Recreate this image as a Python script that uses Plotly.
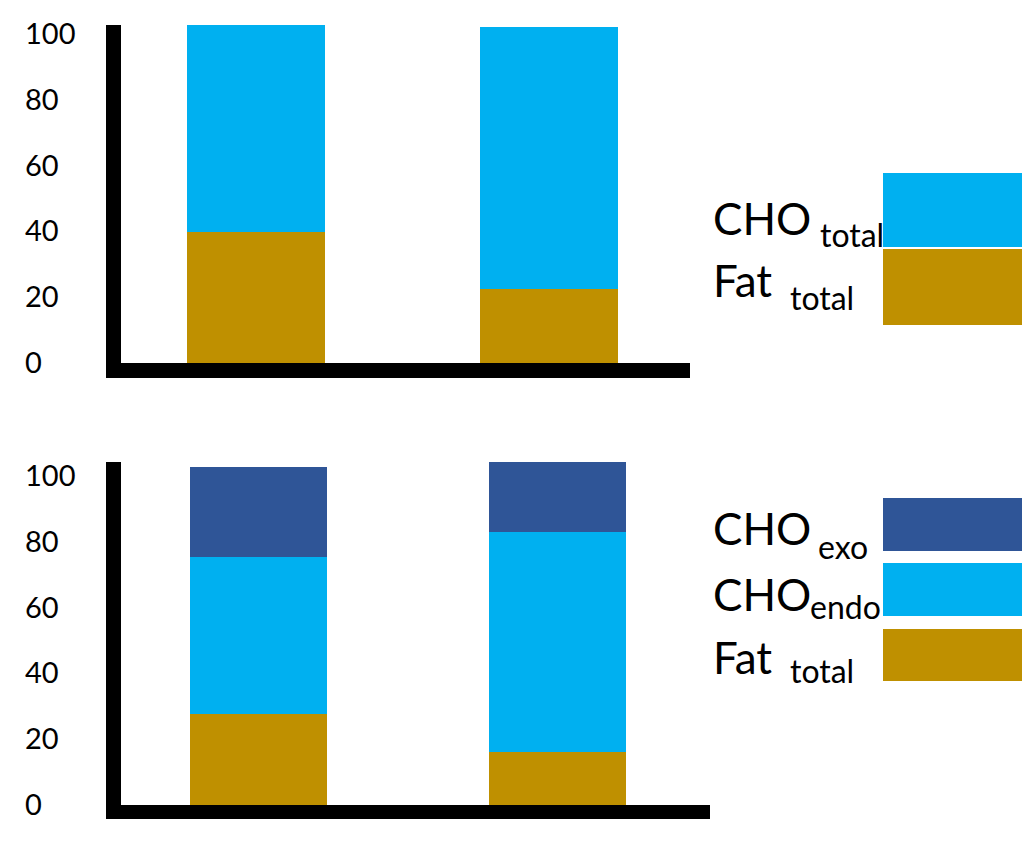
import plotly.graph_objects as go

W, H = 1024, 854

# ---- data ----
bar_positions = [0, 1]
tick_values = [0, 20, 40, 60, 80, 100]
tick_labels = ["0", "20", "40", "60", "80", "100"]

top_fat_total = [40.0, 22.5]
top_cho_total = [63.0, 80.0]

bot_fat_total = [27.7, 16.2]
bot_cho_endo = [47.9, 67.1]
bot_cho_exo = [27.4, 21.1]

legend_main = ["CHO", "Fat", "CHO", "CHO", "Fat"]
legend_sub = ["total", "total", "exo", "endo", "total"]

C_CHO = "#00B0F0"
C_FAT = "#BF9000"
C_EXO = "#2F5597"
FONT = "Lato"


def px(x):
    return x / W


def py(y):
    return 1 - y / H


fig = go.Figure()

# top chart
fig.add_trace(go.Bar(x=bar_positions, y=top_fat_total, marker_color=C_FAT, width=0.47,
                     marker_line_width=0, xaxis="x", yaxis="y", showlegend=False))
fig.add_trace(go.Bar(x=bar_positions, y=top_cho_total, marker_color=C_CHO, width=0.47,
                     marker_line_width=0, xaxis="x", yaxis="y", showlegend=False))
# bottom chart
fig.add_trace(go.Bar(x=bar_positions, y=bot_fat_total, marker_color=C_FAT, width=0.46,
                     marker_line_width=0, xaxis="x2", yaxis="y2", showlegend=False))
fig.add_trace(go.Bar(x=bar_positions, y=bot_cho_endo, marker_color=C_CHO, width=0.46,
                     marker_line_width=0, xaxis="x2", yaxis="y2", showlegend=False))
fig.add_trace(go.Bar(x=bar_positions, y=bot_cho_exo, marker_color=C_EXO, width=0.46,
                     marker_line_width=0, xaxis="x2", yaxis="y2", showlegend=False))

axis_common = dict(showgrid=False, zeroline=False, ticks="", showticklabels=False,
                   showline=True, linecolor="black", fixedrange=True)

fig.update_layout(
    width=W, height=H,
    margin=dict(l=0, r=0, t=0, b=0),
    paper_bgcolor="white", plot_bgcolor="white",
    barmode="stack", bargap=0,
    font=dict(family=FONT, color="black", size=28),
    xaxis=dict(domain=[px(121), px(690)], range=[-0.46, 1.48], anchor="y",
               linewidth=15, **axis_common),
    yaxis=dict(domain=[py(363), py(25)], range=[0, 103], anchor="x",
               linewidth=15, **axis_common),
    xaxis2=dict(domain=[px(121), px(710)], range=[-0.46, 1.51], anchor="y2",
                linewidth=14, **axis_common),
    yaxis2=dict(domain=[py(805), py(462)], range=[0, 104.5], anchor="x2",
                linewidth=15, **axis_common),
)

annotations = []
# left-aligned tick labels placed through the axis scales
for yref in ["y", "y2"]:
    for v, t in zip(tick_values, tick_labels):
        annotations.append(dict(x=px(23), xref="paper", xanchor="left",
                                y=v, yref=yref, yanchor="middle", yshift=2,
                                text=t, showarrow=False,
                                font=dict(size=29, family=FONT, color="black")))

# legend swatches
shapes = []
top_legend = [(C_CHO, 173, 247), (C_FAT, 249, 325)]
bot_legend = [(C_EXO, 498, 551), (C_CHO, 563, 616), (C_FAT, 629, 681)]
for col, y0, y1 in top_legend + bot_legend:
    shapes.append(dict(type="rect", xref="paper", yref="paper",
                       x0=px(883), x1=px(1022), y0=py(y1), y1=py(y0),
                       fillcolor=col, line_width=0))

# legend labels: main word + subscript (positions in pixels)
main_centers = [218, 280, 528, 594, 657]
sub_x = [818, 788, 816, 808, 788]
sub_centers = [235, 297, 546, 606, 670]
for t, yc in zip(legend_main, main_centers):
    annotations.append(dict(x=px(711), xref="paper", xanchor="left",
                            y=py(yc), yref="paper", yanchor="middle",
                            text=t, showarrow=False,
                            font=dict(size=44, family=FONT, color="black")))
for t, xs, yc in zip(legend_sub, sub_x, sub_centers):
    annotations.append(dict(x=px(xs), xref="paper", xanchor="left",
                            y=py(yc), yref="paper", yanchor="middle",
                            text=t, showarrow=False,
                            font=dict(size=32, family=FONT, color="black")))

fig.update_layout(annotations=annotations, shapes=shapes)

fig.write_html("out.html", post_script="document.body.style.margin='0';",
               config={"displayModeBar": False})
